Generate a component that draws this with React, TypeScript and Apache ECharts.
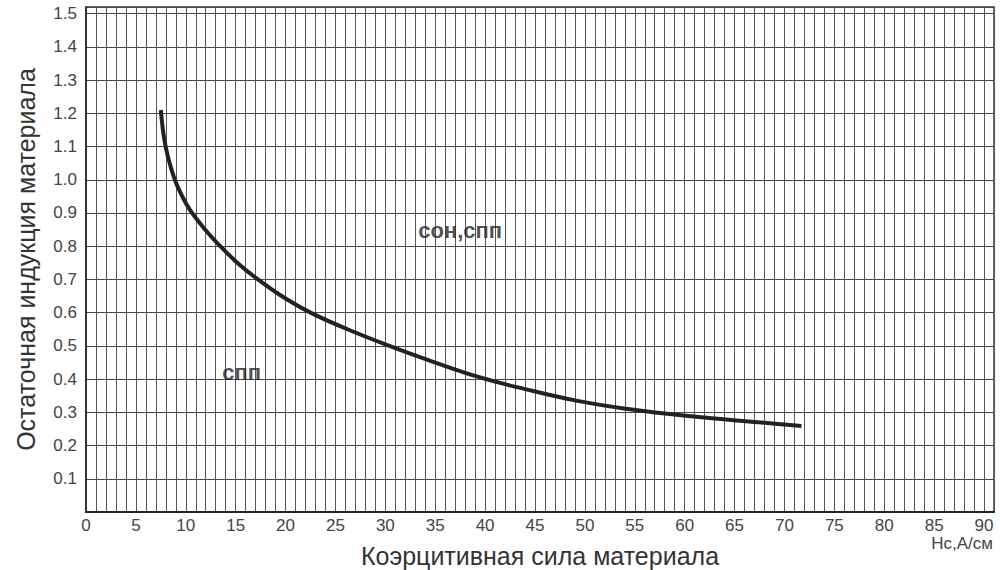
import React, { useEffect, useRef } from "react";
import * as echarts from "echarts";

const curveX = [7.5, 7.8, 8.2, 8.9, 9.6, 10.4, 11.8, 13.3, 15.1, 17.1, 19.6, 22.5, 26.2, 30.4, 34.8, 39.5, 44.0, 49.0, 54.1, 60.7, 67.4, 71.7];
const curveY = [1.21, 1.13, 1.07, 1.0, 0.953, 0.91, 0.855, 0.805, 0.752, 0.703, 0.65, 0.6, 0.55, 0.5, 0.452, 0.405, 0.37, 0.336, 0.311, 0.288, 0.27, 0.259];

const regionLabels = ["сон,спп", "спп"];
const regionX = [37.5, 15.6];
const regionY = [0.846, 0.42];

const xTitle = "Коэрцитивная сила материала";
const yTitle = "Остаточная индукция материала";
const xUnit = "Hc,A/см";

const FONT = "'Liberation Sans', Arial, sans-serif";

export default function App() {
  const ref = useRef<HTMLDivElement>(null);
  useEffect(() => {
    if (!ref.current) return;
    const chart = echarts.init(ref.current, null, { renderer: "svg" });
    chart.setOption({
      animation: false,
      backgroundColor: "#ffffff",
      grid: {
        left: 86,
        right: 6,
        top: 7,
        bottom: 58,
        show: true,
        borderColor: "#333",
        borderWidth: 1.5,
        outerBoundsMode: "none",
        containLabel: false,
      },
      xAxis: {
        type: "value",
        min: 0,
        max: 91,
        interval: 1,
        name: xTitle,
        nameLocation: "middle",
        nameGap: 31,
        nameTextStyle: { fontSize: 25, color: "#333", fontFamily: FONT },
        axisLine: { show: true, lineStyle: { color: "#222", width: 2 } },
        axisTick: { show: false },
        axisLabel: {
          margin: 5,
          fontSize: 17,
          color: "#444",
          fontFamily: FONT,
          showMaxLabel: false,
          formatter: (v: number) => (Math.abs(v % 5) < 1e-6 && v <= 90 ? String(Math.round(v)) : ""),
        },
        splitLine: { show: true, lineStyle: { color: "#555", width: 1 } },
      },
      yAxis: {
        type: "value",
        min: 0,
        max: 1.52,
        interval: 0.1,
        name: yTitle,
        nameLocation: "middle",
        nameGap: 48,
        nameTextStyle: { fontSize: 25, color: "#333", fontFamily: FONT },
        axisLine: { show: true, lineStyle: { color: "#222", width: 1.5 } },
        axisTick: { show: false },
        axisLabel: {
          margin: 9,
          fontSize: 17,
          color: "#444",
          fontFamily: FONT,
          formatter: (v: number) => {
            const r = Math.round(v * 10);
            if (r <= 0 || r > 15 || Math.abs(v * 10 - r) > 1e-6) return "";
            return (r / 10).toFixed(1);
          },
        },
        splitLine: { show: true, lineStyle: { color: "#444", width: 1 } },
      },
      graphic: [
        {
          type: "text",
          right: 7,
          top: 535,
          style: { text: xUnit, fontSize: 17, fill: "#444", fontFamily: FONT },
        },
      ],
      series: [
        {
          type: "line",
          data: curveX.map((x, i) => [x, curveY[i]]),
          smooth: 0.4,
          showSymbol: false,
          symbol: "none",
          lineStyle: { color: "#222", width: 4 },
        },
        {
          type: "scatter",
          symbolSize: 0,
          data: regionX.map((x, i) => ({ value: [x, regionY[i]], name: regionLabels[i] })),
          label: {
            show: true,
            position: "inside",
            formatter: (p: any) => p.name,
            fontSize: 22,
            fontWeight: "bold",
            color: "#222",
            fontFamily: FONT,
          },
        },
      ],
    });
    return () => chart.dispose();
  }, []);
  return <div ref={ref} style={{ position: "fixed", left: 0, top: 0, width: 1000, height: 570 }} />;
}
